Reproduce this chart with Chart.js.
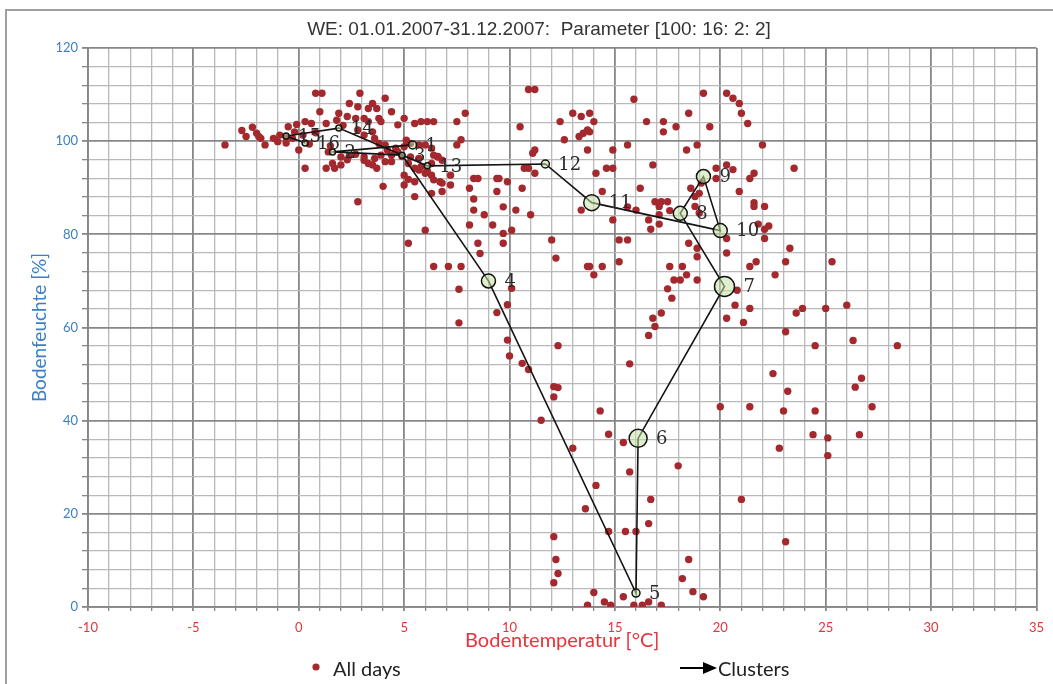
<!DOCTYPE html>
<html>
<head>
<meta charset="utf-8">
<script src="https://cdn.jsdelivr.net/npm/chart.js@4/dist/chart.umd.min.js"></script>
<style>
    html, body { margin: 0; padding: 0; background: #fff; }
    #wrap { position: relative; width: 1053px; height: 684px; overflow: hidden; }
    #frame { position: absolute; left: 5px; top: 9px; width: 1100px; height: 720px; border: 2px solid #a0a0a0; box-sizing: border-box; }
    #chart { position: absolute; left: 0; top: 0; }
</style>
</head>
<body>
<div id="wrap">
    <div id="frame"></div>
    <canvas id="chart" width="1053" height="684"></canvas>
</div>
<script>
/**
 * Soil temperature vs. soil moisture, daily values 2007 plus cluster path
 */

const chartTitle = 'WE: 01.01.2007-31.12.2007:  Parameter [100: 16: 2: 2]';
const xTitle = 'Bodentemperatur [°C]';
const yTitle = 'Bodenfeuchte [%]';
const xMajorTicks = [-10, -5, 0, 5, 10, 15, 20, 25, 30, 35];
const yMajorTicks = [0, 20, 40, 60, 80, 100, 120];

// All days: soil temperature [°C]
const dayTemp = [
    -3.5, -2.7, -2.2, -2.5, -2.0, -1.8, -1.6, -1.9, -1.2, -1.0,
    -0.9, -0.6, -0.6, -0.5, -0.3, -0.2, 0.2, 0.0, 0.3, 0.3,
    0.6, 1.3, 1.8, 2.1, 0.8, 1.1, 1.0, 1.9, 2.3, 2.7,
    2.4, 2.8, 3.3, 3.7, 2.9, 3.5, 4.1, 4.4, 3.1, 3.3,
    3.8, 3.9, 4.7, 5.0, 5.5, 5.8, 6.1, 6.4, 2.8, 3.1,
    3.5, 3.6, 3.8, 4.1, 4.2, 4.4, 4.6, 4.7, 4.9, 3.9,
    3.6, 3.1, 3.5, 3.7, 4.1, 4.4, 5.0, 5.3, 5.1, 5.7,
    6.0, 6.3, 6.4, 6.6, 5.2, 5.5, 5.7, 6.0, 6.3, 6.4,
    6.7, 7.2, 7.2, 5.0, 5.2, 5.5, 4.0, 1.4, 1.6, 1.3,
    1.7, 2.0, 2.3, 2.0, 2.4, 2.7, 3.1, 3.3, 5.3, 5.7,
    5.8, 6.1, 6.3, 6.6, 6.8, 2.8, 5.5, 5.0, 6.8, 6.8,
    6.3, 0.5, 0.8, 1.5, -0.1,
    7.9, 7.5, 7.5, 7.7, 10.5, 8.3, 8.5, 9.4, 9.5, 8.1,
    8.3, 8.3, 8.1, 8.8, 9.2, 6.0, 5.2, 6.4, 7.1, 7.7,
    7.6, 7.6, 8.6, 9.4, 9.9, 9.7, 10.3, 11.0, 10.6, 9.7,
    9.7, 10.1, 8.5, 9.4, 9.9, 12.0, 12.2, 10.9, 11.2, 11.2,
    11.1, 10.7, 10.9, 11.2, 10.1,
    13.0, 13.4, 13.8, 14.0, 13.7, 13.5, 13.3, 13.8, 12.4, 12.6,
    13.7, 14.9, 15.6, 15.9, 14.1, 14.6, 14.9, 16.5, 17.3, 17.3,
    17.9, 18.5, 19.2, 19.5, 18.4, 18.9, 16.8, 16.2, 14.4, 15.6,
    16.0, 14.9, 16.6, 16.9, 17.2, 17.5, 17.1, 17.6, 17.1, 18.6,
    18.8, 19.0, 18.8, 19.0, 19.1, 13.4, 19.8, 20.3, 20.6, 19.8,
    21.4, 21.6, 20.9, 21.6, 21.6, 22.1, 21.8, 22.1, 22.3, 22.1,
    20.3, 20.6, 20.9, 21.0, 21.3, 22.0, 23.5, 16.7, 17.1,
    15.2, 15.2, 15.6, 13.7, 13.8, 14.4, 14.0, 20.3, 20.3, 21.4,
    21.7, 22.6, 23.1, 23.3, 25.3, 20.7, 21.4, 20.3, 21.1, 23.6,
    23.9, 25.0, 26.0, 23.1, 24.5, 26.3, 28.4, 22.5, 23.2, 26.4,
    26.7, 20.0, 21.4, 23.0, 24.5, 27.2, 24.4, 26.6, 25.1, 22.8,
    25.1, 21.0, 23.1, 16.8, 16.9, 17.2, 16.6, 17.5, 17.7, 17.6,
    18.2, 18.4, 18.1, 17.8, 18.9, 18.5, 18.9, 18.9, 20.8,
    9.9, 10.0, 10.6, 10.9, 12.3, 12.1, 12.3, 12.1, 11.5, 13.0,
    12.1, 12.2, 12.3, 12.1, 14.3, 14.7, 15.4, 15.7, 14.1, 13.6,
    15.7, 14.7, 15.5, 16.0, 16.6, 16.7, 18.0, 18.5, 18.2, 18.7,
    19.2, 14.0, 15.4, 14.5, 14.8, 13.7, 15.9, 16.3, 16.6, 17.2
];

// All days: soil moisture [%]
const dayMoist = [
    99.2, 102.3, 103.0, 101.0, 101.7, 100.6, 99.2, 101.0, 100.6, 99.9,
    101.3, 100.9, 99.6, 103.1, 100.6, 102.0, 101.3, 98.1, 94.2, 104.2,
    103.8, 103.8, 104.5, 103.4, 110.3, 110.3, 106.3, 106.0, 105.3, 104.9,
    108.1, 107.4, 107.0, 107.0, 110.3, 108.1, 109.2, 106.3, 104.9, 104.2,
    104.9, 104.2, 103.5, 104.9, 103.8, 104.2, 104.2, 104.2, 102.4, 101.3,
    102.0, 100.6, 99.5, 99.2, 98.1, 97.0, 98.5, 97.7, 96.7, 97.0,
    96.3, 95.9, 94.9, 94.2, 95.6, 95.6, 98.8, 99.5, 100.2, 99.2,
    99.2, 98.5, 97.0, 96.7, 95.2, 94.2, 93.8, 93.1, 92.7, 91.7,
    91.3, 92.7, 90.6, 92.7, 91.8, 91.3, 90.3, 97.7, 95.2, 94.2,
    94.2, 94.9, 96.0, 96.6, 96.9, 97.2, 96.6, 95.2, 96.6, 96.3,
    94.5, 93.6, 95.2, 96.6, 95.9, 87.0, 88.1, 90.6, 91.0, 89.2,
    88.8, 99.4, 101.8, 99.0, 103.6,
    106.0, 104.2, 99.2, 100.3, 103.1, 92.0, 92.0, 92.0, 92.0, 89.9,
    87.6, 85.2, 82.0, 84.2, 82.0, 80.9, 78.1, 73.1, 73.1, 73.1,
    68.2, 61.0, 75.9, 89.2, 91.3, 85.9, 85.2, 84.2, 89.9, 80.2,
    78.1, 80.9, 78.1, 63.2, 64.9, 78.8, 74.9, 111.1, 111.1, 98.1,
    97.4, 94.2, 94.2, 93.1, 68.4,
    106.0, 105.3, 106.0, 104.2, 102.4, 101.7, 101.0, 102.0, 104.2, 100.3,
    98.1, 98.1, 99.2, 109.0, 93.1, 94.2, 94.2, 104.2, 104.2, 102.0,
    103.1, 106.0, 110.3, 103.1, 98.1, 99.2, 94.9, 89.9, 89.2, 85.9,
    85.2, 83.1, 83.1, 87.0, 87.0, 87.0, 86.0, 85.1, 84.2, 89.9,
    88.1, 88.8, 86.0, 84.6, 91.0, 85.2, 94.2, 94.9, 93.9, 92.0,
    92.0, 93.1, 89.2, 86.8, 86.0, 86.0, 82.2, 81.1, 81.8, 79.1,
    110.3, 109.2, 108.1, 106.0, 103.8, 99.2, 94.2, 81.1, 82.2,
    74.1, 78.8, 78.8, 73.1, 73.1, 73.1, 71.3, 76.0, 79.1, 73.1,
    74.1, 71.3, 74.1, 77.0, 74.1, 64.8, 64.1, 62.0, 61.1, 63.1,
    64.1, 64.1, 64.8, 59.1, 56.1, 57.2, 56.1, 50.1, 46.3, 47.2,
    49.1, 43.0, 43.0, 42.1, 42.1, 43.0, 37.0, 37.0, 36.3, 34.1,
    32.5, 23.1, 14.0, 62.0, 60.2, 63.1, 58.3, 68.3, 66.3, 73.1,
    73.1, 71.3, 70.2, 70.2, 70.2, 78.1, 77.0, 75.2, 68.0,
    57.3, 53.9, 52.3, 51.0, 56.1, 47.3, 47.1, 45.1, 40.1, 34.1,
    15.1, 10.2, 7.2, 5.2, 42.1, 37.1, 35.3, 52.2, 26.1, 21.1,
    29.0, 16.2, 16.2, 16.2, 17.9, 23.1, 30.3, 10.2, 6.1, 3.3,
    2.2, 3.1, 2.2, 1.1, 0.4, 0.4, 0.4, 0.4, 1.1, 0.4
];

// Cluster centres in time order 1..16
const clusterLabels = ['1', '2', '3', '4', '5', '6', '7', '8', '9', '10', '11', '12', '13', '14', '15', '16'];
const clusterTemp = [5.4, 1.6, 4.9, 9.0, 16.0, 16.1, 20.2, 18.1, 19.2, 20.0, 13.9, 11.7, 6.1, 1.9, -0.6, 0.3];
const clusterMoist = [99.2, 97.7, 97.0, 70.0, 3.0, 36.2, 68.8, 84.5, 92.4, 80.8, 86.8, 95.1, 94.7, 102.8, 101.1, 99.6];

// marker radius per cluster (bigger circle = more days)
const clusterRadius = [4, 3, 3, 7, 4, 9, 10, 7, 7, 7, 8, 4, 3, 3, 3, 3];

const colors = {
    day: '#a3292e',
    line: '#141414',
    clusterFill: 'rgba(198, 226, 164, 0.55)',
    gridMinor: '#b9b9b9',
    gridMajor: '#878787',
    xText: '#e8333a',
    yText: '#3b7fc4',
    title: '#333333'
};

const dayPoints = dayTemp.map((t, i) => ({ x: t, y: dayMoist[i] }));
const clusterPoints = clusterTemp.map((t, i) => ({ x: t, y: clusterMoist[i] }));

// title, cluster numbers and the bottom legend
const decorPlugin = {
    id: 'decor',
    afterDatasetsDraw(chart) {
        const c = chart.ctx;
        const meta = chart.getDatasetMeta(1);
        c.save();
        c.font = '18px "DejaVu Serif", serif';
        c.fillStyle = '#2a2a2a';
        c.textAlign = 'left';
        c.textBaseline = 'middle';
        meta.data.forEach((pt, i) => {
            c.fillText(clusterLabels[i], pt.x + clusterRadius[i] + 9, pt.y + 1);
        });
        c.restore();
    },
    afterDraw(chart) {
        const c = chart.ctx;
        c.save();
        c.font = '19px "Liberation Sans", Arial, sans-serif';
        c.fillStyle = colors.title;
        c.textAlign = 'center';
        c.textBaseline = 'middle';
        c.fillText(chartTitle, 539, 30);

        // legend
        const ly = 670;
        c.fillStyle = colors.day;
        c.beginPath();
        c.arc(316, ly - 3, 3.6, 0, Math.PI * 2);
        c.fill();
        c.font = '20px Lato, sans-serif';
        c.fillStyle = '#222';
        c.textAlign = 'left';
        c.fillText('All days', 333, ly);

        c.strokeStyle = '#000';
        c.lineWidth = 2;
        c.beginPath();
        c.moveTo(680, ly - 2);
        c.lineTo(706, ly - 2);
        c.stroke();
        c.fillStyle = '#000';
        c.beginPath();
        c.moveTo(717, ly - 2);
        c.lineTo(703, ly - 8);
        c.lineTo(703, ly + 4);
        c.closePath();
        c.fill();
        c.fillStyle = '#222';
        c.fillText('Clusters', 718, ly);
        c.restore();
    }
};

new Chart(document.getElementById('chart'), {
    type: 'scatter',
    data: {
        datasets: [
            {
                label: 'All days',
                data: dayPoints,
                order: 2,
                pointRadius: 3.7,
                pointHoverRadius: 3.7,
                pointBackgroundColor: colors.day,
                pointBorderWidth: 0
            },
            {
                label: 'Clusters',
                data: clusterPoints,
                order: 1,
                showLine: true,
                borderColor: colors.line,
                borderWidth: 1.6,
                tension: 0,
                pointRadius: clusterRadius,
                pointHoverRadius: clusterRadius,
                pointBackgroundColor: colors.clusterFill,
                pointBorderColor: colors.line,
                pointBorderWidth: 1.5
            }
        ]
    },
    options: {
        responsive: false,
        animation: false,
        layout: { padding: { top: 48, right: 10, bottom: 0, left: 0 } },
        plugins: {
            legend: { display: false },
            tooltip: { enabled: false },
            title: { display: false }
        },
        scales: {
            x: {
                type: 'linear',
                min: -10,
                max: 35,
                afterFit: (scale) => { scale.height = 77; },
                border: { display: true, color: colors.gridMajor, width: 1.8 },
                grid: {
                    color: (ctx) => (ctx.tick && xMajorTicks.includes(ctx.tick.value)) ? colors.gridMajor : colors.gridMinor,
                    lineWidth: (ctx) => (ctx.tick && xMajorTicks.includes(ctx.tick.value)) ? 1.8 : 1.3,
                    tickLength: 4,
                    tickColor: colors.gridMajor
                },
                ticks: {
                    stepSize: 1,
                    autoSkip: false,
                    maxTicksLimit: 100,
                    maxRotation: 0,
                    padding: 9,
                    color: colors.xText,
                    font: { family: 'Lato, sans-serif', size: 13 },
                    callback: (v) => xMajorTicks.includes(v) ? String(v) : ''
                },
                title: {
                    display: true,
                    text: xTitle,
                    color: colors.xText,
                    font: { family: 'Lato, sans-serif', size: 20 },
                    padding: { top: 0, bottom: 31 }
                }
            },
            y: {
                type: 'linear',
                min: 0,
                max: 120,
                afterFit: (scale) => { scale.width = 88; },
                border: { display: true, color: colors.gridMajor, width: 1.8 },
                grid: {
                    color: (ctx) => (ctx.tick && yMajorTicks.includes(ctx.tick.value)) ? colors.gridMajor : colors.gridMinor,
                    lineWidth: (ctx) => (ctx.tick && yMajorTicks.includes(ctx.tick.value)) ? 1.8 : 1.3,
                    tickLength: 6,
                    tickColor: colors.gridMajor
                },
                ticks: {
                    stepSize: 4,
                    autoSkip: false,
                    maxTicksLimit: 100,
                    padding: 4,
                    color: colors.yText,
                    font: { family: 'Lato, sans-serif', size: 13 },
                    callback: (v) => yMajorTicks.includes(v) ? String(v) : ''
                },
                title: {
                    display: true,
                    text: yTitle,
                    color: colors.yText,
                    font: { family: 'Lato, sans-serif', size: 19 },
                    padding: { top: 28, bottom: 0 }
                }
            }
        }
    },
    plugins: [decorPlugin]
});
</script>
</body>
</html>
